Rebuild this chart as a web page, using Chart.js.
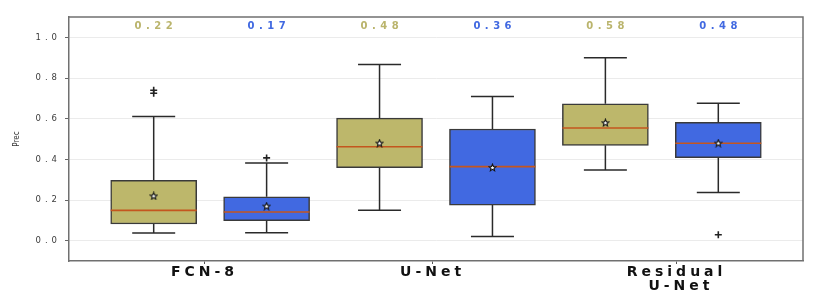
<!DOCTYPE html>
<html><head><meta charset="utf-8">
<script src="https://cdn.jsdelivr.net/npm/chart.js@4.4.1/dist/chart.umd.min.js"></script>
<style>html,body{margin:0;padding:0;background:#fff}#wrap{width:822px;height:300px}</style>
</head><body><div id="wrap"><canvas id="c" width="822" height="300"></canvas></div>
<script>
// ---- data ----
const categories = ['FCN-8', 'U-Net', 'Residual\n U-Net'];
const categoryTickPos = [1.45, 3.47, 5.63];
const yTicks = [0, 0.2, 0.4, 0.6, 0.8, 1.0];
const seriesNames = ['Series A', 'Series B'];

const oliveQ1      = [0.082, 0.359, 0.469];
const oliveQ3      = [0.297, 0.603, 0.673];
const oliveMedian  = [0.149, 0.462, 0.554];
const oliveLow     = [0.038, 0.149, 0.348];
const oliveHigh    = [0.611, 0.866, 0.899];
const oliveMean    = [0.22, 0.48, 0.58];
const oliveOutliers = [[0.74, 0.725], [], []];

const blueQ1       = [0.098, 0.175, 0.408];
const blueQ3       = [0.216, 0.549, 0.582];
const blueMedian   = [0.141, 0.364, 0.479];
const blueLow      = [0.039, 0.020, 0.237];
const blueHigh     = [0.382, 0.709, 0.676];
const blueMean     = [0.17, 0.36, 0.48];
const blueOutliers = [[0.407], [], [0.029]];

// ---- styles ----
const fills = ['#bdb76b', '#4169e1'];
const labelColors = ['#bab46c', '#4169e1'];
const BOX_W = 86, CAP_W = 43;

const stats = [
  {q1: oliveQ1, q3: oliveQ3, med: oliveMedian, lo: oliveLow, hi: oliveHigh, mean: oliveMean, out: oliveOutliers},
  {q1: blueQ1, q3: blueQ3, med: blueMedian, lo: blueLow, hi: blueHigh, mean: blueMean, out: blueOutliers}
];
const posOf = (i, s) => 2 * i + 1 + s;

function makeStar() {
  const c = document.createElement('canvas');
  c.width = 9; c.height = 9;
  const g = c.getContext('2d');
  g.beginPath();
  for (let k = 0; k < 10; k++) {
    const r = k % 2 ? 1.6 : 3.6;
    const a = -Math.PI / 2 + k * Math.PI / 5;
    const px = 4.5 + r * Math.cos(a), py = 4.8 + r * Math.sin(a);
    k ? g.lineTo(px, py) : g.moveTo(px, py);
  }
  g.closePath();
  g.fillStyle = '#fff'; g.fill();
  g.lineWidth = 1.1; g.strokeStyle = '#111'; g.stroke();
  return c;
}
const starImg = makeStar();

const datasets = [];
stats.forEach((st, s) => {
  datasets.push({
    type: 'bar', label: seriesNames[s], seriesIndex: s, order: 3,
    data: categories.map((c, i) => ({x: posOf(i, s), y: [st.q1[i], st.q3[i]]})),
    backgroundColor: fills[s], borderColor: '#3a3a3a', borderWidth: 1.5,
    borderSkipped: false, barThickness: BOX_W, grouped: false
  });
});
stats.forEach((st, s) => {
  datasets.push({
    type: 'scatter', label: seriesNames[s] + ' mean', order: 1,
    data: categories.map((c, i) => ({x: posOf(i, s), y: st.mean[i]})),
    pointStyle: starImg, pointRadius: 4
  });
  const outs = [];
  st.out.forEach((arr, i) => arr.forEach(v => outs.push({x: posOf(i, s), y: v})));
  datasets.push({
    type: 'scatter', label: seriesNames[s] + ' outliers', order: 1,
    data: outs, pointStyle: 'cross', pointRadius: 3.5,
    borderColor: '#222', borderWidth: 1.6
  });
});

const extras = {
  id: 'boxExtras',
  beforeDraw(chart) { chart.ctx.letterSpacing = '0px'; },
  afterDatasetDraw(chart, args) {
    const ds = chart.data.datasets[args.index];
    if (ds.type !== 'bar') return;
    const s = ds.seriesIndex, st = stats[s];
    const ctx = chart.ctx, xs = chart.scales.x, ys = chart.scales.y;
    ctx.save();
    categories.forEach((c, i) => {
      const cx = xs.getPixelForValue(posOf(i, s));
      const yq1 = ys.getPixelForValue(st.q1[i]), yq3 = ys.getPixelForValue(st.q3[i]);
      const ylo = ys.getPixelForValue(st.lo[i]), yhi = ys.getPixelForValue(st.hi[i]);
      ctx.strokeStyle = '#2a2a2a'; ctx.lineWidth = 1.5;
      ctx.beginPath();
      ctx.moveTo(cx, yq3); ctx.lineTo(cx, yhi);
      ctx.moveTo(cx, yq1); ctx.lineTo(cx, ylo);
      ctx.moveTo(cx - CAP_W / 2, yhi); ctx.lineTo(cx + CAP_W / 2, yhi);
      ctx.moveTo(cx - CAP_W / 2, ylo); ctx.lineTo(cx + CAP_W / 2, ylo);
      ctx.stroke();
      const ym = ys.getPixelForValue(st.med[i]);
      ctx.strokeStyle = '#c4561e'; ctx.lineWidth = 1.6;
      ctx.beginPath();
      ctx.moveTo(cx - BOX_W / 2, ym); ctx.lineTo(cx + BOX_W / 2, ym);
      ctx.stroke();
    });
    ctx.restore();
  },
  afterDatasetsDraw(chart) {
    const ctx = chart.ctx, a = chart.chartArea, xs = chart.scales.x;
    ctx.save();
    ctx.strokeStyle = '#707070'; ctx.lineWidth = 1.5;
    ctx.beginPath();
    ctx.moveTo(a.left, a.top); ctx.lineTo(a.right, a.top); ctx.lineTo(a.right, a.bottom);
    ctx.stroke();
    ctx.font = 'bold 10px "DejaVu Sans"';
    ctx.letterSpacing = '4.5px';
    ctx.textAlign = 'center'; ctx.textBaseline = 'middle';
    stats.forEach((st, s) => {
      ctx.fillStyle = labelColors[s];
      categories.forEach((c, i) => {
        ctx.fillText(st.mean[i].toFixed(2), xs.getPixelForValue(posOf(i, s)) + 2.25, a.top + 9);
      });
    });
    ctx.restore();
    ctx.letterSpacing = '4px';
  },
  afterDraw(chart) { chart.ctx.letterSpacing = '0px'; }
};

new Chart(document.getElementById('c'), {
  type: 'bar',
  data: {datasets},
  plugins: [extras],
  options: {
    responsive: false, animation: false, devicePixelRatio: 1,
    layout: {padding: {top: 17, right: 19, left: 0, bottom: 0}},
    plugins: {legend: {display: false}, tooltip: {enabled: false}},
    scales: {
      x: {
        type: 'linear', min: 0.25, max: 6.75, offset: false,
        afterBuildTicks: (sc) => { sc.ticks = categoryTickPos.map(v => ({value: v})); },
        afterFit: (sc) => { sc.height = 39; },
        ticks: {
          z: 1, autoSkip: false, maxRotation: 0, padding: 1, color: '#111',
          font: {family: 'DejaVu Sans', size: 14, weight: 'bold', lineHeight: 1},
          callback: (v, i) => categories[i].split('\n')
        },
        grid: {display: true, offset: false, drawOnChartArea: false, tickLength: 3, tickColor: '#555'},
        border: {display: true, color: '#707070', width: 1.5}
      },
      y: {
        min: -0.1, max: 1.1,
        afterBuildTicks: (sc) => { sc.ticks = yTicks.map(v => ({value: v})); },
        afterFit: (sc) => { sc.width = 69; },
        ticks: {
          z: 1, padding: 4, color: '#3c3c3c',
          font: {family: 'DejaVu Sans', size: 8.5},
          callback: (v) => Number(v).toFixed(1)
        },
        grid: {color: '#ebebeb', lineWidth: 1, tickLength: 4, tickColor: '#666'},
        border: {color: '#707070', width: 1.5},
        title: {
          display: true, text: 'Prec', color: '#333',
          font: {family: '"DejaVu Sans Condensed", "DejaVu Sans"', size: 8},
          padding: {top: 12, bottom: 0}
        }
      }
    }
  }
});
</script></body></html>
